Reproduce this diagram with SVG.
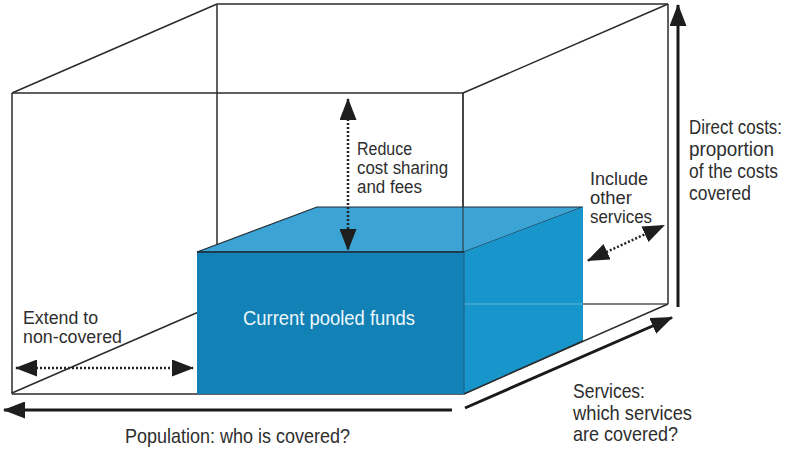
<svg xmlns="http://www.w3.org/2000/svg" width="787" height="452" viewBox="0 0 787 452">
<defs>
<style>
.edge{stroke:#2b2b2b;stroke-width:1.5;fill:none}
.faint{stroke:#555;stroke-width:1.3;fill:none}
.dot{stroke:#222;stroke-width:2.5;stroke-dasharray:2 2;fill:none}
.solid{stroke:#1a1a1a;stroke-width:3;fill:none}
.lbl{font-family:"Liberation Sans",Arial,sans-serif;font-size:17.5px;fill:#2e2e2e}
.big{font-size:20px}
.inner{font-family:"Liberation Sans",Arial,sans-serif;font-size:20px;fill:#eef7fb}
</style>
<marker id="head" viewBox="0 0 22 17" refX="21" refY="8.5" markerWidth="22" markerHeight="17" markerUnits="userSpaceOnUse" orient="auto-start-reverse">
<path d="M0,0 L22,8.5 L0,17 Z" fill="#1e1e1e"/>
</marker>
</defs>
<rect width="787" height="452" fill="#ffffff"/>

<g id="outer-box">
<line class="edge" x1="12" y1="93" x2="463" y2="93"/>
<line class="edge" x1="12" y1="93" x2="12" y2="394"/>
<line class="edge" x1="12" y1="394" x2="463" y2="394"/>
<line class="edge" x1="463" y1="93" x2="463" y2="394"/>
<line class="edge" x1="12" y1="93" x2="217" y2="4"/>
<line class="edge" x1="463" y1="93" x2="668" y2="4"/>
<line class="edge" x1="217" y1="4" x2="668" y2="4"/>
<line class="edge" x1="668" y1="4" x2="668" y2="304"/>
<line class="edge" x1="217" y1="4" x2="217" y2="304"/>
<line class="faint" x1="217" y1="304" x2="668" y2="304"/>
<line class="edge" x1="12" y1="393" x2="217" y2="304"/>
<line class="edge" x1="463" y1="394" x2="668" y2="304"/>
</g>

<g id="pooled-funds">
<polygon points="197,252 464,252 583,207 317,207" fill="#3ba4d4" stroke="#1f2a33" stroke-width="1.2"/>
<polygon points="464,252 583,207 583,341 464,394" fill="#1896cb"/>
<rect x="197" y="252" width="267" height="142" fill="#1281b6"/>
<line x1="464" y1="304" x2="583" y2="304" stroke="#5db9e0" stroke-width="1.2"/>
<line x1="463" y1="93" x2="463" y2="252" stroke="#2b2b2b" stroke-width="1.2" opacity="0.8"/>
<line x1="197" y1="252" x2="464" y2="252" stroke="#1f2a33" stroke-width="1.5"/>
<line x1="464" y1="252" x2="464" y2="394" stroke="#1d5e80" stroke-width="1"/>
<line x1="464" y1="394" x2="583" y2="341" stroke="#2b2b2b" stroke-width="1.5"/>
<text class="inner" transform="translate(243,325) scale(0.82,1)" textLength="209.8" lengthAdjust="spacingAndGlyphs">Current pooled funds</text>
</g>

<g id="connectors">
<line class="dot" x1="348" y1="99" x2="348" y2="250" marker-start="url(#head)" marker-end="url(#head)"/>
<line class="dot" x1="16" y1="368" x2="193" y2="368" marker-start="url(#head)" marker-end="url(#head)"/>
<line class="dot" x1="588" y1="260.5" x2="664" y2="225.5" marker-start="url(#head)" marker-end="url(#head)"/>
<line class="solid" x1="678" y1="307" x2="678" y2="5" marker-end="url(#head)"/>
<line class="solid" x1="452" y1="410" x2="4" y2="410" marker-end="url(#head)"/>
<line class="solid" x1="465" y1="408" x2="672" y2="317.5" marker-end="url(#head)"/>
</g>

<g id="label-reduce">
<text class="lbl" transform="translate(357,155) scale(0.82,1)" textLength="67.1" lengthAdjust="spacingAndGlyphs">Reduce</text>
<text class="lbl" transform="translate(357,174) scale(0.82,1)" textLength="111" lengthAdjust="spacingAndGlyphs">cost sharing</text>
<text class="lbl" transform="translate(357,193) scale(0.82,1)" textLength="79.3" lengthAdjust="spacingAndGlyphs">and fees</text>
</g>
<g id="label-include">
<text class="lbl" transform="translate(590,185) scale(0.82,1)" textLength="70.7" lengthAdjust="spacingAndGlyphs">Include</text>
<text class="lbl" transform="translate(590,204) scale(0.82,1)" textLength="51.2" lengthAdjust="spacingAndGlyphs">other</text>
<text class="lbl" transform="translate(590,223) scale(0.82,1)" textLength="75.6" lengthAdjust="spacingAndGlyphs">services</text>
</g>
<g id="label-direct">
<text class="lbl big" transform="translate(689,134) scale(0.82,1)" textLength="113.4" lengthAdjust="spacingAndGlyphs">Direct costs:</text>
<text class="lbl big" transform="translate(689,156) scale(0.82,1)" textLength="103.7" lengthAdjust="spacingAndGlyphs">proportion</text>
<text class="lbl big" transform="translate(689,178) scale(0.82,1)" textLength="108.5" lengthAdjust="spacingAndGlyphs">of the costs</text>
<text class="lbl big" transform="translate(689,200) scale(0.82,1)" textLength="75.6" lengthAdjust="spacingAndGlyphs">covered</text>
</g>
<g id="label-extend">
<text class="lbl" transform="translate(23,324) scale(0.82,1)" textLength="91.5" lengthAdjust="spacingAndGlyphs">Extend to</text>
<text class="lbl" transform="translate(23,343) scale(0.82,1)" textLength="120.7" lengthAdjust="spacingAndGlyphs">non-covered</text>
</g>
<g id="label-population">
<text class="lbl big" transform="translate(125,443) scale(0.82,1)" textLength="274.4" lengthAdjust="spacingAndGlyphs">Population: who is covered?</text>
</g>
<g id="label-services">
<text class="lbl big" transform="translate(573,398) scale(0.82,1)" textLength="87.8" lengthAdjust="spacingAndGlyphs">Services:</text>
<text class="lbl big" transform="translate(573,420) scale(0.82,1)" textLength="145.1" lengthAdjust="spacingAndGlyphs">which services</text>
<text class="lbl big" transform="translate(573,441) scale(0.82,1)" textLength="128" lengthAdjust="spacingAndGlyphs">are covered?</text>
</g>
</svg>
